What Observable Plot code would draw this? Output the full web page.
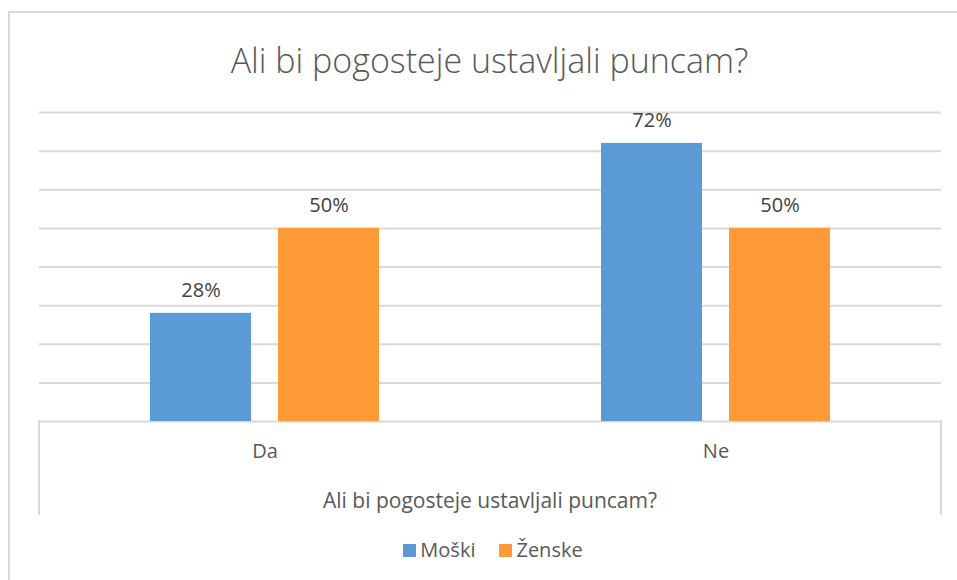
<!DOCTYPE html>
<html>
<head>
<meta charset="utf-8">
<script src="https://cdn.jsdelivr.net/npm/d3@7"></script>
<script src="https://cdn.jsdelivr.net/npm/@observablehq/plot@0.6"></script>
<style>
  html, body { margin: 0; padding: 0; background: #fff; }
  #wrap { position: relative; width: 957px; height: 580px; overflow: hidden; font-family: "Open Sans", Lato, sans-serif; color: #595959; }
  #frame { position: absolute; left: 8px; top: 11px; right: -10px; bottom: -10px; border-left: 2px solid #d9d9d9; border-top: 2px solid #d9d9d9; }
  #title { position: absolute; left: 0; width: 979px; top: 37px; line-height: 46px; text-align: center; font-size: 34px; font-weight: 300; }
  #chart { position: absolute; left: 0; top: 0; }
  #axisbox { position: absolute; left: 38px; top: 420px; width: 904px; height: 95px; border-left: 2px solid #d9d9d9; border-right: 2px solid #d9d9d9; box-sizing: border-box; }
  #axistitle { position: absolute; left: 0; width: 980px; top: 486px; line-height: 28px; text-align: center; font-size: 21px; }
  #legend { position: absolute; left: 0; width: 986px; top: 536px; line-height: 28px; text-align: center; font-size: 20px; }
  .item { display: inline-block; margin: 0 12px; }
  .sw { display: inline-block; width: 13px; height: 13px; margin-right: 4px; vertical-align: 0px; }
</style>
</head>
<body>
<div id="wrap">
  <div id="frame"></div>
  <div id="title"></div>
  <div id="axisbox"></div>
  <div id="chart"></div>
  <div id="axistitle"></div>
  <div id="legend"></div>
</div>
<script>
const titleText = "Ali bi pogosteje ustavljali puncam?";
const categories = ["Da", "Ne"];
const series = ["Moški", "Ženske"];
const moski = [28, 72];
const zenske = [50, 50];
const yTicks = [0, 10, 20, 30, 40, 50, 60, 70, 80];
const colors = ["#5B9BD5", "#FF9A36"];

const data = categories.flatMap((c, i) => [
  {cat: c, s: series[0], v: moski[i]},
  {cat: c, s: series[1], v: zenske[i]}
]);

document.getElementById("title").textContent = titleText;
document.getElementById("axistitle").textContent = titleText;

const chart = Plot.plot({
  width: 957,
  height: 580,
  marginTop: 112,
  marginBottom: 159,
  marginLeft: 39,
  marginRight: 16,
  style: {fontFamily: "'Open Sans', Lato, sans-serif", fontSize: "20px", color: "#595959", background: "transparent"},
  fx: {domain: categories, padding: 0, label: null, tickSize: 0, tickPadding: 22, axis: "bottom"},
  x: {domain: series, paddingInner: 0.211, paddingOuter: 0.867, axis: null},
  y: {domain: [0, 80], axis: null},
  color: {domain: series, range: colors},
  marks: [
    Plot.ruleY(yTicks, {stroke: "#d9d9d9", strokeWidth: 2}),
    Plot.barY(data, {fx: "cat", x: "s", y: "v", fill: "s"}),
    Plot.text(data, {fx: "cat", x: "s", y: "v", text: d => d.v + "%", dy: -23, fill: "#404040", fontSize: 20})
  ]
});
document.getElementById("chart").appendChild(chart);

const legend = document.getElementById("legend");
series.forEach((s, i) => {
  const item = document.createElement("span");
  item.className = "item";
  const sw = document.createElement("span");
  sw.className = "sw";
  sw.style.background = colors[i];
  item.appendChild(sw);
  item.appendChild(document.createTextNode(s));
  legend.appendChild(item);
});
</script>
</body>
</html>
